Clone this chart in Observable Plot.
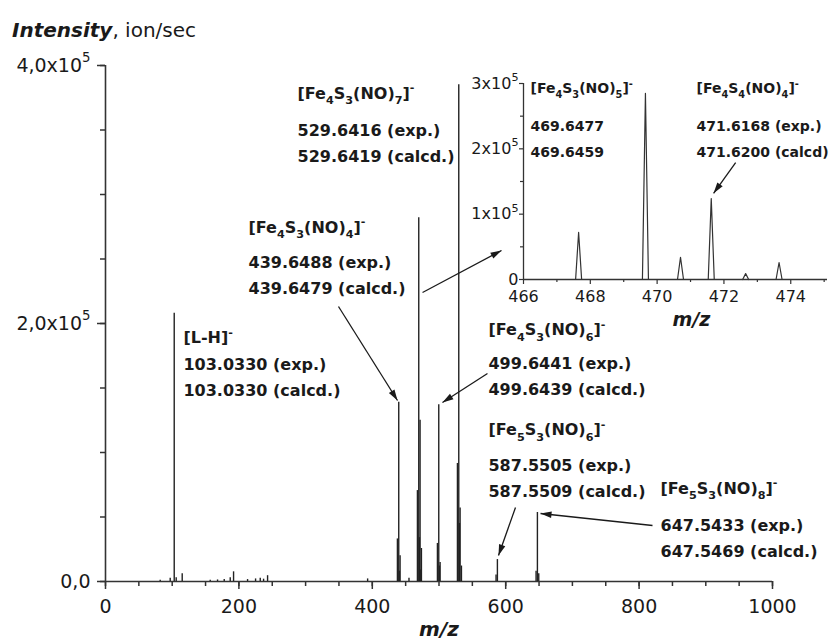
<!DOCTYPE html>
<html><head><meta charset="utf-8">
<script src="https://cdn.jsdelivr.net/npm/d3@7"></script>
<script src="https://cdn.jsdelivr.net/npm/@observablehq/plot@0.6"></script>
<style>
body{margin:0;background:#fff;}
#wrap{position:relative;width:835px;height:641px;font-family:"DejaVu Sans";color:#1a1a1a;overflow:hidden;}
#title{position:absolute;left:12px;top:20px;font-size:20px;line-height:20px;white-space:nowrap;}
#main{position:absolute;left:0;top:0;}
#inset{position:absolute;left:440px;top:40px;}
</style></head><body>
<div id="wrap"><div id="title"><b><i>Intensity</i></b>, ion/sec</div><div id="main"></div><div id="inset"></div></div>
<script>
// ---- main spectrum (m/z, intensity ion/sec) ----
const mzMain  = [82, 97, 103.03, 106, 115, 157, 168, 178, 187, 192, 213, 225, 232, 237, 243, 393, 455,
                 437.65, 439.65, 440.65, 441.65,
                 467.65, 469.65, 470.65, 471.62, 472.65, 473.65,
                 497.64, 499.64, 500.64, 501.64,
                 527.64, 529.64, 530.64, 531.64, 533.64,
                 585.55, 587.55, 645.54, 647.54, 649.54];
const intMain = [1000, 2500, 208000, 3000, 6000, 1000, 1200, 1500, 3000, 7500, 1500, 2000, 2500, 1800, 4500, 2000, 2500,
                 33000, 139000, 8000, 20000,
                 70500, 282000, 34000, 125000, 9000, 25600,
                 29500, 137000, 12000, 14700,
                 91500, 385000, 45000, 57000, 12000,
                 5000, 17000, 8000, 53500, 6000];
// ---- inset spectrum ----
const mzInset  = [467.65, 469.65, 470.70, 471.62, 472.65, 473.65];
const intInset = [72000, 285000, 34000, 124000, 9000, 26000];

// ---- ticks ----
const xMajor = [0, 200, 400, 600, 800, 1000];
const xMinor = d3.range(0, 1001, 50);
const yMajor = [0, 200000, 400000];
const yTickLabels = ["0,0", "2,0x10^{5}", "4,0x10^{5}"];
const yMinor = d3.range(0, 400001, 50000);
const ixMajor = [466, 468, 470, 472, 474];
const ixMinor = [467, 469, 471, 473, 475];
const iyMajor = [0, 100000, 200000, 300000];
const iyTickLabels = ["0", "1x10^{5}", "2x10^{5}", "3x10^{5}"];
const iyMinor = [50000, 150000, 250000];

// ---- annotations ----
const ionNames  = ["[Fe_{4}S_{3}(NO)_{7}]^{-}", "[Fe_{4}S_{3}(NO)_{4}]^{-}", "[L-H]^{-}", "[Fe_{4}S_{3}(NO)_{6}]^{-}", "[Fe_{5}S_{3}(NO)_{6}]^{-}", "[Fe_{5}S_{3}(NO)_{8}]^{-}"];
const expTexts  = ["529.6416 (exp.)", "439.6488 (exp.)", "103.0330 (exp.)", "499.6441 (exp.)", "587.5505 (exp.)", "647.5433 (exp.)"];
const calcTexts = ["529.6419 (calcd.)", "439.6479 (calcd.)", "103.0330 (calcd.)", "499.6439 (calcd.)", "587.5509 (calcd.)", "647.5469 (calcd.)"];
const labelX    = [287.9, 214.4, 116.9, 574.2, 574.2, 832.1];
const labelYHead= [374400, 270500, 184500, 190700, 113200, 68200];
const labelYExp = [345700, 243400, 163600, 165100, 86000, 38800];

const insetNames = ["[Fe_{4}S_{3}(NO)_{5}]^{-}", "[Fe_{4}S_{4}(NO)_{4}]^{-}"];
const insetExp   = ["469.6477", "471.6168 (exp.)"];
const insetCalc  = ["469.6459", "471.6200 (calcd)"];
const insetLX    = [466.21, 471.18];
const insetLYHead= [284700, 284700];
const insetLYExp = [228000, 228000];

// arrows (from -> to), data units
const arrowX1 = [349.3, 475.3, 572.7, 614.7, 820.1];
const arrowY1 = [213200, 224000, 161200, 57400, 43400];
const arrowX2 = [437.8, 593.7, 505.2, 589.2, 652.2];
const arrowY2 = [140300, 256600, 138800, 20200, 52700];
const iArrowX1 = [472.35], iArrowY1 = [179000], iArrowX2 = [471.69], iArrowY2 = [132000];

const INK = "#1a1a1a", AX = "#333";

// main plot geometry
const M = {width: 835, height: 641, marginLeft: 105, marginRight: 63, marginTop: 65, marginBottom: 60};
const I = {width: 395, height: 300, marginLeft: 83, marginRight: 8, marginTop: 43, marginBottom: 61};
const mainX = [0, 1000], mainY = [0, 400000];
const insX = [466, 475.1], insY = [0, 300000];

const headSymbol = {draw(ctx, size) { const l = Math.sqrt(size); ctx.moveTo(0, 0); ctx.lineTo(-0.3 * l, l); ctx.lineTo(0.3 * l, l); ctx.closePath(); }};

function arrowData(x1, y1, x2, y2, G, dx, dy) {
  const sx = d3.scaleLinear(dx, [G.marginLeft, G.width - G.marginRight]);
  const sy = d3.scaleLinear(dy, [G.height - G.marginBottom, G.marginTop]);
  return x1.map((_, i) => {
    const ux = sx(x2[i]) - sx(x1[i]), uy = sy(y2[i]) - sy(y1[i]);
    return {x1: x1[i], y1: y1[i], x2: x2[i], y2: y2[i], rot: Math.atan2(ux, -uy) * 180 / Math.PI};
  });
}

const peaks = mzMain.map((mz, i) => ({mz, intensity: intMain[i]}));
const labels = ionNames.map((h, i) => ({head: h, exp: expTexts[i], calc: calcTexts[i], x: labelX[i], yh: labelYHead[i], ye: labelYExp[i]}));
const arrows = arrowData(arrowX1, arrowY1, arrowX2, arrowY2, M, mainX, mainY);

const main = Plot.plot({
  ...M,
  x: {domain: mainX}, y: {domain: mainY},
  style: {fontFamily: "DejaVu Sans", color: INK, background: "none", overflow: "visible"},
  marks: [
    Plot.axisX(xMinor, {tickSize: 5, tickFormat: () => "", stroke: AX, strokeWidth: 1.5}),
    Plot.axisX(xMajor, {tickSize: 8, tickPadding: 10, fontSize: 19, tickFormat: d => String(d), stroke: AX, strokeWidth: 1.5, fill: INK}),
    Plot.axisY(yMinor, {tickSize: 5, tickFormat: () => "", stroke: AX, strokeWidth: 1.5}),
    Plot.axisY(yMajor, {tickSize: 8, tickPadding: 7, fontSize: 19, tickFormat: d => yTickLabels[yMajor.indexOf(d)], stroke: AX, strokeWidth: 1.5, fill: INK}),
    Plot.ruleX([0], {y1: 0, y2: 400000, stroke: AX, strokeWidth: 1.6}),
    Plot.ruleY([0], {x1: 0, x2: 1000, stroke: AX, strokeWidth: 1.6}),
    Plot.ruleX(peaks, {x: "mz", y1: 0, y2: "intensity", stroke: "#222", strokeWidth: 1.4}),
    Plot.text(labels, {x: "x", y: "yh", text: "head", textAnchor: "start", lineAnchor: "bottom", fontSize: 16, fontWeight: "bold", fill: INK}),
    Plot.text(labels, {x: "x", y: "ye", text: "exp", textAnchor: "start", lineAnchor: "bottom", fontSize: 16, fontWeight: "bold", fill: INK}),
    Plot.text(labels, {x: "x", y: "ye", dy: 26, text: "calc", textAnchor: "start", lineAnchor: "bottom", fontSize: 16, fontWeight: "bold", fill: INK}),
    Plot.link(arrows, {x1: "x1", y1: "y1", x2: "x2", y2: "y2", stroke: INK, strokeWidth: 1.3}),
    Plot.dot(arrows, {x: "x2", y: "y2", rotate: "rot", symbol: headSymbol, r: 6.2, fill: INK, stroke: "none"}),
    Plot.text(["m/z"], {frameAnchor: "bottom", dy: 54, text: d => d, lineAnchor: "bottom", fontSize: 20, fontWeight: "bold", fontStyle: "italic", fill: INK})
  ]
});

// inset
const shape = [];
mzInset.forEach((mz, i) => {
  shape.push({id: i, x: mz - 0.09, y: 0}, {id: i, x: mz, y: intInset[i]}, {id: i, x: mz + 0.09, y: 0});
});
const ilabels = insetNames.map((h, i) => ({head: h, exp: insetExp[i], calc: insetCalc[i], x: insetLX[i], yh: insetLYHead[i], ye: insetLYExp[i]}));
const iarrows = arrowData(iArrowX1, iArrowY1, iArrowX2, iArrowY2, I, insX, insY);

const inset = Plot.plot({
  ...I,
  x: {domain: insX}, y: {domain: insY},
  style: {fontFamily: "DejaVu Sans", color: INK, background: "none", overflow: "visible"},
  marks: [
    Plot.axisX(ixMinor, {tickSize: 3, tickFormat: () => "", stroke: AX, strokeWidth: 1.2}),
    Plot.axisX(ixMajor, {tickSize: 5, tickPadding: 6, fontSize: 16, tickFormat: d => String(d), stroke: AX, strokeWidth: 1.2, fill: INK}),
    Plot.axisY(iyMinor, {tickSize: 3, tickFormat: () => "", stroke: AX, strokeWidth: 1.2}),
    Plot.axisY(iyMajor, {tickSize: 4, tickPadding: 1, fontSize: 16, tickFormat: d => iyTickLabels[iyMajor.indexOf(d)], stroke: AX, strokeWidth: 1.2, fill: INK}),
    Plot.ruleX([466], {y1: 0, y2: 300000, stroke: AX, strokeWidth: 1.3}),
    Plot.ruleY([0], {x1: 466, x2: 475.1, stroke: AX, strokeWidth: 1.3}),
    Plot.line(shape, {x: "x", y: "y", z: "id", stroke: "#333", strokeWidth: 1.2}),
    Plot.text(ilabels, {x: "x", y: "yh", text: "head", textAnchor: "start", lineAnchor: "bottom", fontSize: 14, fontWeight: "bold", fill: INK}),
    Plot.text(ilabels, {x: "x", y: "ye", text: "exp", textAnchor: "start", lineAnchor: "bottom", fontSize: 14, fontWeight: "bold", fill: INK}),
    Plot.text(ilabels, {x: "x", y: "ye", dy: 26, text: "calc", textAnchor: "start", lineAnchor: "bottom", fontSize: 14, fontWeight: "bold", fill: INK}),
    Plot.link(iarrows, {x1: "x1", y1: "y1", x2: "x2", y2: "y2", stroke: INK, strokeWidth: 1.3}),
    Plot.dot(iarrows, {x: "x2", y: "y2", rotate: "rot", symbol: headSymbol, r: 6.2, fill: INK, stroke: "none"}),
    Plot.text(["m/z"], {frameAnchor: "bottom", dx: 16, dy: 46, text: d => d, lineAnchor: "bottom", fontSize: 19, fontWeight: "bold", fontStyle: "italic", fill: INK})
  ]
});

document.getElementById("main").appendChild(main);
document.getElementById("inset").appendChild(inset);

// rich text: _{sub} and ^{sup}
function richText(svg) {
  svg.querySelectorAll("text").forEach(t => {
    const s = t.textContent;
    if (!/[_^]\{/.test(s)) return;
    const fs = parseFloat(getComputedStyle(t).fontSize) || 16;
    while (t.firstChild) t.removeChild(t.firstChild);
    const re = /([_^])\{([^}]*)\}|([^_^]+)/g;
    let m, shift = 0;
    while ((m = re.exec(s))) {
      const ts = document.createElementNS("http://www.w3.org/2000/svg", "tspan");
      let target = 0;
      if (m[1]) {
        target = m[1] === "_" ? fs * 0.33 : -fs * 0.48;
        ts.setAttribute("font-size", (fs * 0.7).toFixed(1));
        ts.textContent = m[2];
      } else ts.textContent = m[3];
      if (target !== shift) { ts.setAttribute("dy", (target - shift).toFixed(1)); shift = target; }
      t.appendChild(ts);
    }
  });
}
richText(main);
richText(inset);
</script>
</body></html>
